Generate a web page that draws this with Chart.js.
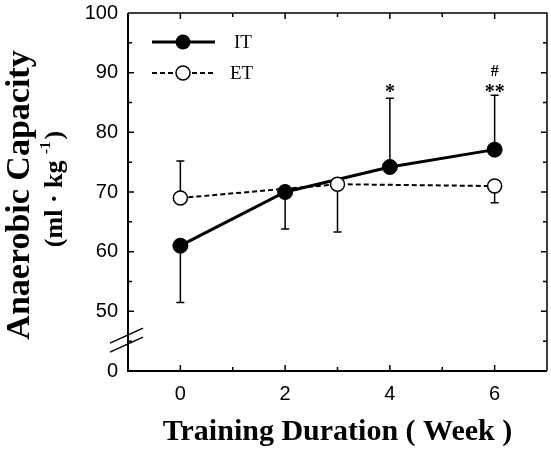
<!DOCTYPE html>
<html>
<head>
<meta charset="utf-8">
<script src="https://cdn.jsdelivr.net/npm/chart.js@4/dist/chart.umd.min.js"></script>
<style>
  html, body { margin: 0; padding: 0; background: #fff; }
  #wrap { width: 551px; height: 450px; }
</style>
</head>
<body>
<div id="wrap"><canvas id="c" width="551" height="450"></canvas></div>
<script>
// ---- data ----
const weeksIT = [0, 2, 4, 6];
const itValues = [61, 70, 74.2, 77.1];
const itSD = [9.5, 6.2, 11.5, 9.1];
const itErrDir = [-1, -1, 1, 1];          // -1 = lower bar, 1 = upper bar
const weeksET = [0, 3, 6];
const etValues = [69, 71.3, 71];
const etSD = [6.2, 8.0, 2.8];
const etErrDir = [1, -1, -1];
const sigWeeks = [4, 6];
const sigLabels = [["*"], ["#", "**"]];
const yTickValues = [40, 45, 50, 55, 60, 65, 70, 75, 80, 85, 90, 95, 100];
const yTickLabels = {40: "0", 50: "50", 60: "60", 70: "70", 80: "80", 90: "90", 100: "100"};
const xTickLabels = {0: "0", 2: "2", 4: "4", 6: "6"};
const seriesNames = ["IT", "ET"];

const SERIF = "'Liberation Serif', 'Times New Roman', serif";
const SANS = "'Liberation Sans', Arial, sans-serif";

const decor = {
  id: 'decor',
  afterDraw(chart) {
    const ctx = chart.ctx;
    const x = chart.scales.x, y = chart.scales.y;
    const a = chart.chartArea;
    ctx.save();
    ctx.strokeStyle = '#000';
    ctx.fillStyle = '#000';
    // error bars
    function errBars(xs, vals, sds, dirs) {
      ctx.lineWidth = 1.5;
      for (let i = 0; i < xs.length; i++) {
        const px = x.getPixelForValue(xs[i]);
        const p0 = y.getPixelForValue(vals[i]);
        const end = vals[i] + dirs[i] * sds[i];
        const p1 = y.getPixelForValue(end);
        const start = p0 + (dirs[i] > 0 ? -7 : 7);
        ctx.beginPath();
        ctx.moveTo(px, start); ctx.lineTo(px, p1);
        ctx.moveTo(px - 4, p1); ctx.lineTo(px + 4, p1);
        ctx.stroke();
      }
    }
    errBars(weeksIT, itValues, itSD, itErrDir);
    errBars(weeksET, etValues, etSD, etErrDir);
    // frame
    ctx.lineWidth = 2;
    ctx.beginPath();
    ctx.moveTo(a.left, a.top); ctx.lineTo(a.left, a.bottom); ctx.lineTo(a.right, a.bottom);
    ctx.stroke();
    ctx.lineWidth = 1.5;
    ctx.beginPath();
    ctx.moveTo(a.left, a.top); ctx.lineTo(a.right, a.top); ctx.lineTo(a.right, a.bottom);
    ctx.stroke();
    // inward ticks
    ctx.lineWidth = 1.5;
    ctx.beginPath();
    for (const v of yTickValues) {
      const py = y.getPixelForValue(v);
      const len = v % 10 === 0 ? 6 : 4;
      if (v !== 40 && v !== 100) {
        ctx.moveTo(a.left, py); ctx.lineTo(a.left + len, py);
        ctx.moveTo(a.right, py); ctx.lineTo(a.right - len, py);
      }
    }
    for (let v = 0; v <= 6; v++) {
      const px = x.getPixelForValue(v);
      const len = v % 2 === 0 ? 6 : 4;
      ctx.moveTo(px, a.bottom); ctx.lineTo(px, a.bottom - len);
      ctx.moveTo(px, a.top); ctx.lineTo(px, a.top + len);
    }
    ctx.stroke();
    // axis break marks
    const by = y.getPixelForValue(45);
    ctx.lineWidth = 1.5;
    ctx.beginPath();
    ctx.moveTo(a.left - 18, by + 2); ctx.lineTo(a.left + 15, by - 13);
    ctx.moveTo(a.left - 18, by + 11); ctx.lineTo(a.left + 15, by - 4);
    ctx.stroke();
    // significance markers
    ctx.textAlign = 'center';
    ctx.textBaseline = 'middle';
    for (let i = 0; i < sigWeeks.length; i++) {
      const px = x.getPixelForValue(sigWeeks[i]);
      const labs = sigLabels[i];
      let py = y.getPixelForValue(87.5);
      for (let j = labs.length - 1; j >= 0; j--) {
        const t = labs[j];
        if (t === '#') {
          ctx.font = "bold 16px " + SERIF;
          ctx.fillText(t, px, py + 2);
        } else {
          ctx.font = "bold 20px " + SERIF;
          ctx.fillText(t, px, py + 5);
        }
        py -= 18;
      }
    }
    // legend
    const ly1 = 42, ly2 = 73, lx0 = 152, lx1 = 215, lc = 183;
    ctx.lineWidth = 3;
    ctx.setLineDash([]);
    ctx.beginPath(); ctx.moveTo(lx0, ly1); ctx.lineTo(lx1, ly1); ctx.stroke();
    ctx.beginPath(); ctx.arc(lc, ly1, 7.5, 0, Math.PI * 2); ctx.fill();
    ctx.lineWidth = 2;
    ctx.setLineDash([5, 3]);
    ctx.beginPath(); ctx.moveTo(lx0, ly2); ctx.lineTo(lx1, ly2); ctx.stroke();
    ctx.setLineDash([]);
    ctx.fillStyle = '#fff';
    ctx.lineWidth = 1.5;
    ctx.beginPath(); ctx.arc(lc, ly2, 7, 0, Math.PI * 2); ctx.fill(); ctx.stroke();
    ctx.fillStyle = '#000';
    ctx.font = "19px " + SERIF;
    ctx.textAlign = 'left';
    ctx.fillText(seriesNames[0], 234, ly1 + 1);
    ctx.fillText(seriesNames[1], 230, ly2 + 1);
    // y titles
    ctx.save();
    ctx.translate(20, 195);
    ctx.rotate(-Math.PI / 2);
    ctx.textAlign = 'center';
    ctx.textBaseline = 'middle';
    ctx.font = "bold 34px " + SERIF;
    ctx.fillText('Anaerobic Capacity', 0, 0);
    ctx.restore();
    ctx.save();
    ctx.translate(55, 189);
    ctx.rotate(-Math.PI / 2);
    ctx.textBaseline = 'middle';
    const F1 = "bold 26px " + SERIF, F2 = "bold 15px " + SERIF;
    ctx.font = F1;
    const p1 = '(ml · kg ', sup = '-1', p2 = ')';
    const w1 = ctx.measureText(p1).width;
    ctx.font = F2;
    const ws = ctx.measureText(sup).width;
    ctx.font = F1;
    const w2 = ctx.measureText(p2).width;
    let sx = -(w1 + ws + w2 + 2) / 2;
    ctx.textAlign = 'left';
    ctx.fillText(p1, sx, 0);
    ctx.font = F2;
    ctx.fillText(sup, sx + w1, -9);
    ctx.font = F1;
    ctx.fillText(p2, sx + w1 + ws + 2, 0);
    ctx.restore();
    ctx.restore();
  }
};

new Chart(document.getElementById('c'), {
  type: 'line',
  data: {
    datasets: [
      {
        label: seriesNames[0],
        data: weeksIT.map((w, i) => ({x: w, y: itValues[i]})),
        borderColor: '#000',
        borderWidth: 3,
        pointRadius: 7.5,
        pointBackgroundColor: '#000',
        pointBorderColor: '#000',
        pointBorderWidth: 1,
        tension: 0,
        order: 1
      },
      {
        label: seriesNames[1],
        data: weeksET.map((w, i) => ({x: w, y: etValues[i]})),
        borderColor: '#000',
        borderWidth: 2,
        borderDash: [5, 3],
        pointRadius: 7,
        pointBackgroundColor: '#fff',
        pointBorderColor: '#000',
        pointBorderWidth: 1.5,
        tension: 0,
        order: 0
      }
    ]
  },
  options: {
    responsive: false,
    animation: false,
    devicePixelRatio: 1,
    layout: { autoPadding: false, padding: { left: 0, right: 4, top: 13, bottom: 0 } },
    plugins: { legend: { display: false }, tooltip: { enabled: false } },
    scales: {
      x: {
        type: 'linear',
        min: -1, max: 7,
        grid: { display: false, drawTicks: false },
        border: { display: false },
        afterBuildTicks(s) { s.ticks = [0, 2, 4, 6].map(v => ({value: v})); },
        ticks: {
          color: '#000',
          padding: 11,
          autoSkip: false,
          maxRotation: 0,
          font: { family: SANS, size: 20 },
          callback: v => xTickLabels[v] ?? ''
        },
        title: {
          display: true,
          text: 'Training Duration ( Week )',
          color: '#000',
          font: { family: SERIF, size: 30, weight: 'bold' },
          padding: { top: 12, bottom: 0 }
        },
        afterFit(s) { s.height = 79; s.paddingLeft = 0; s.paddingRight = 0; }
      },
      y: {
        type: 'linear',
        min: 40, max: 100,
        grid: { display: false, drawTicks: false },
        border: { display: false },
        afterBuildTicks(s) { s.ticks = Object.keys(yTickLabels).map(v => ({value: +v})); },
        ticks: {
          color: '#000',
          padding: 10,
          autoSkip: false,
          font: { family: SANS, size: 20 },
          callback: v => yTickLabels[v] ?? ''
        },
        afterFit(s) { s.width = 128; s.paddingTop = 0; s.paddingBottom = 0; }
      }
    }
  },
  plugins: [decor]
});
</script>
</body>
</html>
